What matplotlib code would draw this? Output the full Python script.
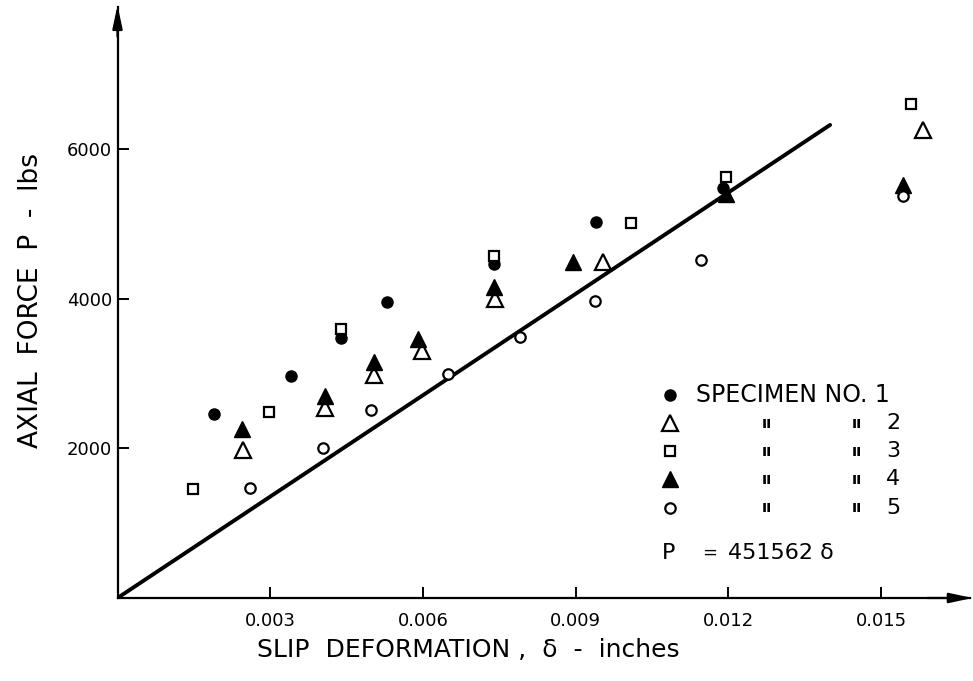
import matplotlib
matplotlib.use("Agg")
import matplotlib.pyplot as plt

# slip deformation (in) and axial force (lbs)
spec1_d = [0.0019, 0.0034, 0.0044, 0.0053, 0.0074, 0.0094, 0.0119]
spec1_p = [2460, 2970, 3470, 3960, 4460, 5030, 5480]

spec2_d = [0.00247, 0.00408, 0.00503, 0.00598, 0.00742, 0.00954, 0.01582]
spec2_p = [1980, 2540, 2980, 3300, 3990, 4490, 6250]

spec3_d = [0.00149, 0.00298, 0.00439, 0.00740, 0.01008, 0.01195, 0.01559]
spec3_p = [1460, 2490, 3590, 4570, 5010, 5630, 6600]

spec4_d = [0.00244, 0.00408, 0.00503, 0.00591, 0.00740, 0.00895, 0.01195, 0.01544]
spec4_p = [2260, 2700, 3150, 3460, 4150, 4490, 5400, 5520]

spec5_d = [0.0026, 0.00403, 0.00498, 0.0065, 0.0079, 0.00938, 0.01146, 0.01544]
spec5_p = [1470, 2000, 2510, 2990, 3490, 3970, 4520, 5370]

# fitted line P = k * delta
k_fit = 451562
fit_d = [0.0, 0.0140]

xticks = [0.003, 0.006, 0.009, 0.012, 0.015]
xtick_labels = ["0.003", "0.006", "0.009", "0.012", "0.015"]
yticks = [2000, 4000, 6000]
ytick_labels = ["2000", "4000", "6000"]

plt.rcParams["font.family"] = ["DejaVu Sans"]

fig = plt.figure(figsize=(9.73, 6.81), dpi=100)
ax = fig.add_axes([117.5 / 973, 83 / 681, 852.5 / 973, 591 / 681])
ax.set_xlim(0, 0.016749)
ax.set_ylim(0, 7898)

for s in ["top", "right"]:
    ax.spines[s].set_visible(False)
for s in ["left", "bottom"]:
    ax.spines[s].set_linewidth(1.6)

ax.set_xticks(xticks)
ax.set_xticklabels(xtick_labels)
ax.set_yticks(yticks)
ax.set_yticklabels(ytick_labels)
ax.tick_params(axis="both", direction="in", length=8, width=1.4, labelsize=13)
ax.tick_params(axis="x", pad=10)
ax.tick_params(axis="y", pad=4)

# axis arrows
ax.annotate("", xy=(0, 1.003), xytext=(0, 0.95), xycoords="axes fraction",
            arrowprops=dict(arrowstyle="-|>,head_length=1.4,head_width=0.3",
                            color="k", lw=1.6, shrinkA=0, shrinkB=0))
ax.annotate("", xy=(1.003, 0), xytext=(0.95, 0), xycoords="axes fraction",
            arrowprops=dict(arrowstyle="-|>,head_length=1.4,head_width=0.3",
                            color="k", lw=1.6, shrinkA=0, shrinkB=0))

# fitted line
ax.plot(fit_d, [k_fit * d for d in fit_d], color="k", lw=2.8, solid_capstyle="round")

mew = 1.6
ax.plot(spec1_d, spec1_p, "o", ms=8, color="k", clip_on=False)
ax.plot(spec2_d, spec2_p, "^", ms=11, mfc="white", mec="k", mew=mew, clip_on=False)
ax.plot(spec4_d, spec4_p, "^", ms=11, color="k", clip_on=False)
ax.plot(spec3_d, spec3_p, "s", ms=7, mfc="white", mec="k", mew=mew, clip_on=False)
ax.plot(spec5_d, spec5_p, "o", ms=7.5, mfc="white", mec="k", mew=mew, clip_on=False)

# axis labels
ax.set_xlabel("SLIP  DEFORMATION ,  δ  -  inches", fontsize=18)
ax.xaxis.set_label_coords(0.412, -0.068)
ax.set_ylabel("AXIAL  FORCE  P  -  lbs", fontsize=19)
ax.yaxis.set_label_coords(-0.086, 0.504)


# legend, drawn by hand in axes fraction
def fx(px):
    return (px - 117.5) / 852.5


def fy(py):
    return (598 - py) / 591


rows = [395, 423, 451, 479, 508]
styles = [
    dict(marker="o", ms=8, color="k"),
    dict(marker="^", ms=11, mfc="white", mec="k", mew=mew),
    dict(marker="s", ms=7, mfc="white", mec="k", mew=mew),
    dict(marker="^", ms=11, color="k"),
    dict(marker="o", ms=7.5, mfc="white", mec="k", mew=mew),
]
for i, (r, st) in enumerate(zip(rows, styles)):
    ax.plot([fx(670)], [fy(r)], ls="none", transform=ax.transAxes, clip_on=False, **st)
    if i == 0:
        ax.text(fx(696), fy(r), "SPECIMEN NO. 1", transform=ax.transAxes,
                fontsize=17, va="center", ha="left")
    else:
        ax.text(fx(767), fy(r), "ıı", transform=ax.transAxes,
                fontsize=11, va="center", ha="center", fontweight="bold")
        ax.text(fx(857), fy(r), "ıı", transform=ax.transAxes,
                fontsize=11, va="center", ha="center", fontweight="bold")
        ax.text(fx(886), fy(r), str(i + 1), transform=ax.transAxes,
                fontsize=16, va="center", ha="left")

ax.text(fx(662), fy(553), "P", transform=ax.transAxes, fontsize=16, va="center", ha="left")
ax.text(fx(702), fy(553), "=", transform=ax.transAxes, fontsize=13, va="center", ha="left")
ax.text(fx(728), fy(553), "451562 δ", transform=ax.transAxes, fontsize=16,
        va="center", ha="left")

fig.savefig("out.png", dpi=100)
